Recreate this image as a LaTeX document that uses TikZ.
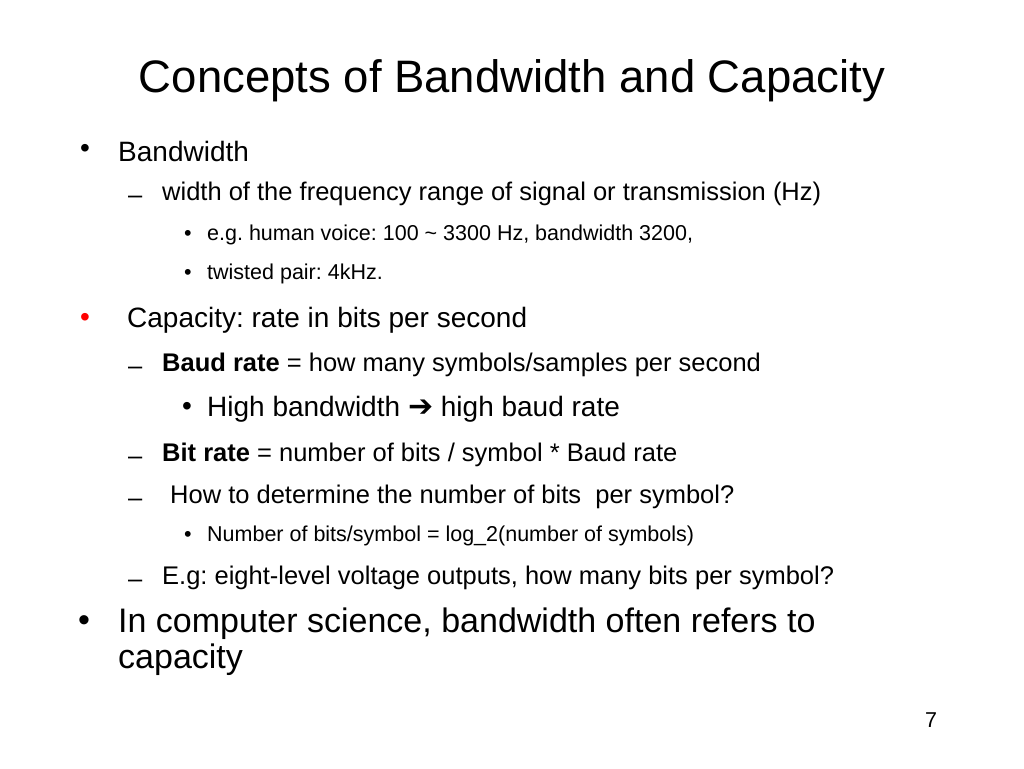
\documentclass[tikz,border=0pt]{standalone}
\usepackage{fontspec}
\setmainfont{Liberation Sans}
\newfontfamily\djvfont{DejaVu Sans}
\begin{document}
\frenchspacing
\begin{tikzpicture}[x=1pt,y=-1pt,every node/.style={anchor=west,inner sep=0pt,yshift=-3pt}]
\useasboundingbox[fill=white] (0,0) rectangle (1024,768);
\tikzset{tA/.style={font=\fontsize{45.5}{48}\selectfont},
 lA/.style={font=\fontsize{28}{32}\selectfont},
 lB/.style={font=\fontsize{25.5}{28}\selectfont},
 lC/.style={font=\fontsize{21.5}{23}\selectfont},
 lD/.style={font=\fontsize{34}{36}\selectfont},
 dsh/.style={lB,yshift=-6pt}}
\node[tA,anchor=center] (t) at (512,78) {Concepts of Bandwidth and Capacity};
\node[lA] (b1) at (80,148) {•}; \node[lA] (a1) at (118,148) {Bandwidth};
\node[dsh] (d1) at (128,191) {–}; \node[lB] (a2) at (162,191) {width of the frequency range of signal or transmission (Hz)};
\node[lC] (c1) at (184,232) {•}; \node[lC] (a3) at (207,232) {e.g. human voice: 100 \char`~{} 3300 Hz, bandwidth 3200,};
\node[lC] (c2) at (184,271) {•}; \node[lC] (a4) at (207,271) {twisted pair: 4kHz.};
\node[lA,text=red] (b2) at (80,317) {•}; \node[lA] (a5) at (127,317) {Capacity: rate in bits per second};
\node[dsh] (d2) at (128,362) {–}; \node[lB] (a6) at (162,362) {\textbf{Baud rate} = how many symbols/samples per second};
\node[lA] (c3) at (182,406) {•}; \node[lA] (a7) at (207,406) {High bandwidth {\djvfont\fontsize{30}{32}\selectfont ➔} high baud rate};
\node[dsh] (d3) at (128,452) {–}; \node[lB] (a8) at (162,452) {\textbf{Bit rate} = number of bits / symbol * Baud rate};
\node[dsh] (d4) at (128,494) {–}; \node[lB] (a9) at (170,494) {How to determine the number of bits\ \ per symbol?};
\node[lC] (c4) at (184,533) {•}; \node[lC] (a10) at (207,533) {Number of bits/symbol = log\_2(number of symbols)};
\node[dsh] (d5) at (128,575) {–}; \node[lB] (a11) at (162,575) {E.g: eight-level voltage outputs, how many bits per symbol?};
\node[lD] (b3) at (78,621) {•}; \node[lD] (a12) at (118,621) {In computer science, bandwidth often refers to};
\node[lD] (a13) at (118,657) {capacity};
\node[lC] (pn) at (925,717) {7};
\end{tikzpicture}
\end{document}
